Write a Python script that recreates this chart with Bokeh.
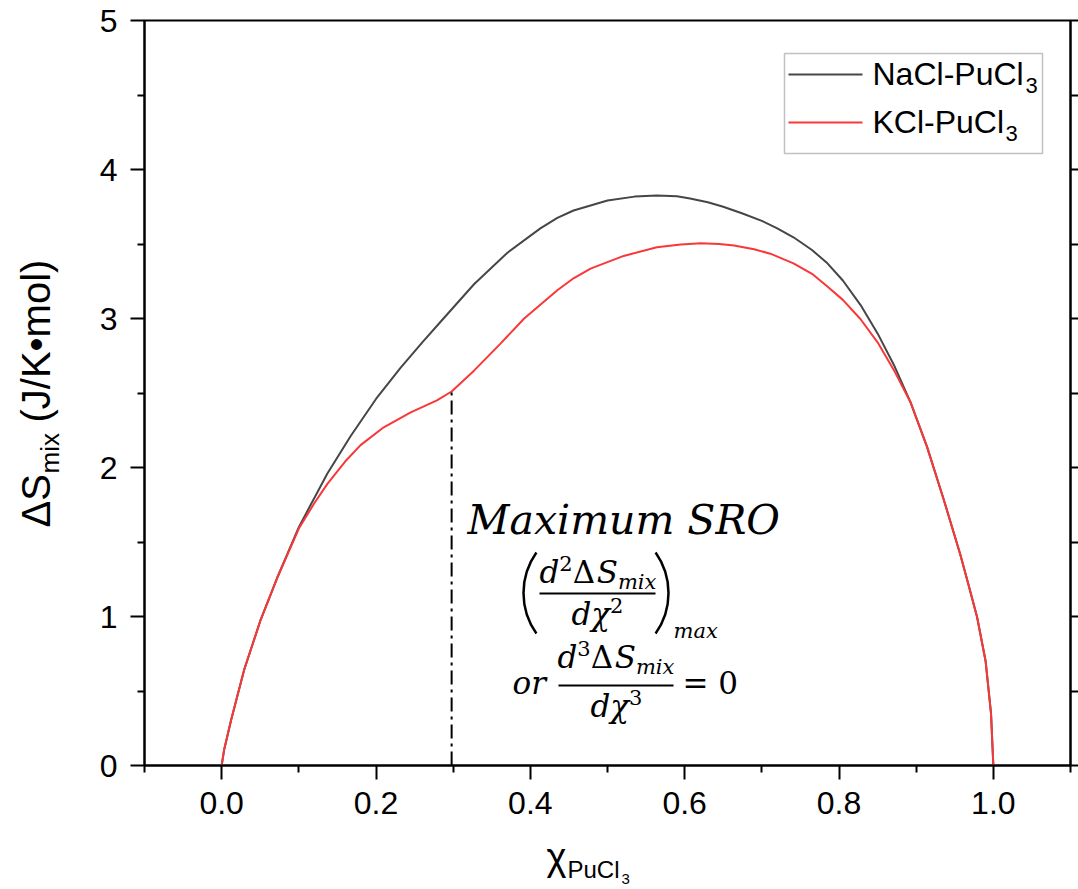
import math
from bokeh.plotting import figure
from bokeh.layouts import row, column
from bokeh.models import (Range1d, LinearAxis, FixedTicker, Label, BoxAnnotation,
                          PrintfTickFormatter, CustomJSTickFormatter)
from bokeh.embed import file_html
from bokeh.resources import INLINE

# Mole fraction of PuCl3 and entropy of mixing (J/K·mol)
x_nacl = [0.0, 0.003, 0.012, 0.029, 0.05, 0.072, 0.10, 0.137, 0.167, 0.20, 0.232,
          0.26, 0.284, 0.327, 0.37, 0.413, 0.435, 0.456, 0.50, 0.535, 0.564, 0.59,
          0.607, 0.63, 0.65, 0.675, 0.70, 0.72, 0.741, 0.765, 0.785, 0.805, 0.828,
          0.85, 0.871, 0.8925, 0.914, 0.936, 0.957, 0.968, 0.979, 0.99, 0.997, 1.0]
s_nacl = [0.0, 0.10, 0.30, 0.64, 0.97, 1.26, 1.60, 1.96, 2.21, 2.46, 2.67,
          2.84, 2.98, 3.23, 3.44, 3.605, 3.675, 3.725, 3.792, 3.818, 3.826, 3.82,
          3.805, 3.78, 3.75, 3.705, 3.655, 3.605, 3.545, 3.46, 3.37, 3.255, 3.09,
          2.90, 2.69, 2.44, 2.14, 1.78, 1.42, 1.21, 0.995, 0.70, 0.35, 0.0]

x_kcl = [0.0, 0.003, 0.012, 0.029, 0.05, 0.072, 0.10, 0.12, 0.137, 0.16, 0.18,
         0.21, 0.245, 0.279, 0.298, 0.327, 0.361, 0.392, 0.435, 0.456, 0.478,
         0.521, 0.564, 0.595, 0.621, 0.645, 0.664, 0.69, 0.711, 0.741, 0.765,
         0.785, 0.805, 0.828, 0.85, 0.871, 0.8925, 0.914, 0.936, 0.957, 0.968,
         0.979, 0.99, 0.997, 1.0]
s_kcl = [0.0, 0.10, 0.30, 0.64, 0.97, 1.26, 1.59, 1.76, 1.89, 2.04, 2.15,
         2.27, 2.37, 2.45, 2.51, 2.65, 2.83, 3.00, 3.19, 3.27, 3.335,
         3.42, 3.478, 3.497, 3.505, 3.50, 3.49, 3.465, 3.435, 3.37, 3.30,
         3.215, 3.125, 2.995, 2.84, 2.655, 2.44, 2.14, 1.78, 1.42, 1.21,
         0.995, 0.70, 0.35, 0.0]

# composition of maximum short-range order (KCl-PuCl3)
sro_x = 0.298
sro_s = 2.51

x_major = [0.0, 0.2, 0.4, 0.6, 0.8, 1.0]
x_minor = [-0.1, 0.1, 0.3, 0.5, 0.7, 0.9, 1.1]
y_major = [0, 1, 2, 3, 4, 5]
y_minor = [0.5, 1.5, 2.5, 3.5, 4.5]

GRAY = "#464646"
RED = "#f83838"
SANS = "Liberation Sans"
SERIF = "DejaVu Serif"

# page geometry (pixels): left title strip + main plot, then bottom title strip
W, H = 1078, 889
LEFT_W = 90
MAIN_W, MAIN_H = W - LEFT_W, 835
FL, FR, FT, FB = 144, 1070, 20, 765          # frame edges on the page
X0, X1 = -0.1, 1.1
Y0, Y1 = 0.0, 5.0
BASE = 0.366                                  # baseline drop of a label, in em


def dx(px):
    return X0 + (px - FL) / (FR - FL) * (X1 - X0)


def dy(py):
    return Y0 + (FB - py) / (FB - FT) * (Y1 - Y0)


p = figure(width=MAIN_W, height=MAIN_H, x_range=Range1d(X0, X1),
           y_range=Range1d(Y0, Y1), output_backend="svg", toolbar_location=None,
           min_border_left=FL - LEFT_W, min_border_right=W - FR,
           min_border_top=FT, min_border_bottom=MAIN_H - FB)
p.xgrid.visible = False
p.ygrid.visible = False
p.outline_line_color = "black"
p.outline_line_width = 2


def style_axis(ax, ticks, minor, fmt):
    ax.ticker = FixedTicker(ticks=ticks, minor_ticks=minor)
    ax.formatter = fmt
    ax.axis_line_color = "black"
    ax.axis_line_width = 2
    ax.major_tick_line_width = 2
    ax.minor_tick_line_width = 2
    ax.major_tick_line_color = "black"
    ax.minor_tick_line_color = "black"
    ax.major_tick_in = 0
    ax.minor_tick_in = 0
    ax.major_tick_out = 14
    ax.minor_tick_out = 7
    ax.major_label_text_font = SANS
    ax.major_label_text_font_size = "32px"
    ax.major_label_text_color = "black"


style_axis(p.xaxis[0], x_major, x_minor, PrintfTickFormatter(format="%.1f"))
p.xaxis[0].major_label_standoff = 12
style_axis(p.yaxis[0], y_major, y_minor, PrintfTickFormatter(format="%d"))
p.yaxis[0].major_label_standoff = 13

right = LinearAxis()
style_axis(right, y_major, y_minor, CustomJSTickFormatter(code="return ''"))
right.major_tick_out = 8
right.minor_tick_out = 8
right.major_label_standoff = 0
p.add_layout(right, "right")

# curves
p.line(x_nacl, s_nacl, line_color=GRAY, line_width=2)
p.line(x_kcl, s_kcl, line_color=RED, line_width=2)

# vertical dash-dot marker at the maximum SRO composition
p.line([sro_x, sro_x], [0, sro_s], line_color="black", line_width=2,
       line_dash="14 5 3 5")


def lab(px, py, text, size, font=SANS, style="normal"):
    """Text on the main plot; (px, py) is the page position of the baseline start."""
    p.add_layout(Label(x=dx(px), y=dy(py - BASE * size), text=text, text_font=font,
                       text_font_size=f"{size}px", text_font_style=style,
                       text_color="black", text_align="left",
                       text_baseline="alphabetic"))


# legend
p.add_layout(BoxAnnotation(left=dx(784), right=dx(1042), top=dy(53), bottom=dy(153),
                           fill_color="white", fill_alpha=1.0, level="underlay",
                           line_color="#333333", line_width=1.5))
p.line([dx(788), dx(862)], [dy(74), dy(74)], line_color=GRAY, line_width=2)
p.line([dx(788), dx(862)], [dy(122), dy(122)], line_color=RED, line_width=2)
lab(872, 85, "NaCl-PuCl", 32)
lab(1025, 93, "3", 22)
lab(872, 133, "KCl-PuCl", 32)
lab(1005, 141, "3", 22)

# annotation text
lab(467, 535, "Maximum SRO", 41, SERIF, "italic")

M, S = 31, 21            # main and script sizes of the formulae


def seq(x, base, parts):
    """Lay out (text, size, style, rise, advance_em) pieces from x along a baseline."""
    for text, size, style, rise, adv in parts:
        lab(x, base - rise, text, size, SERIF, style)
        x += adv * size


num = lambda k: [("d", M, "italic", 0, 0.64), (k, S, "normal", 12, 0.64),
                 ("Δ", M, "normal", 0, 0.77), ("S", M, "italic", 0, 0.685),
                 ("mix", S, "italic", -6, 1.84)]
den = lambda k: [("dχ", M, "italic", 0, 1.24), (k, S, "normal", 12, 0.64)]

# (d²ΔS_mix / dχ²)_max
seq(539, 583, num("2"))
p.line([dx(539), dx(655)], [dy(593), dy(593)], line_color="black", line_width=2)
seq(571, 625, den("2"))
lab(673, 638, "max", S, SERIF, "italic")

R_PAREN = 70
HALF = math.asin(40.5 / R_PAREN)
p.arc(x=[dx(523 + R_PAREN)], y=[dy(592.5)], radius=R_PAREN, radius_units="screen",
      start_angle=math.pi - HALF, end_angle=math.pi + HALF,
      line_color="black", line_width=2.5)
p.arc(x=[dx(668 - R_PAREN)], y=[dy(592.5)], radius=R_PAREN, radius_units="screen",
      start_angle=-HALF, end_angle=HALF, line_color="black", line_width=2.5)

# or d³ΔS_mix / dχ³ = 0
lab(512, 694, "or", M, SERIF, "italic")
seq(557, 668, num("3"))
p.line([dx(558), dx(673)], [dy(685), dy(685)], line_color="black", line_width=2)
seq(590, 717, den("3"))
lab(682, 694, "= 0", M, SERIF)


def strip(w, h, y_top, y_bottom):
    """Blank figure whose data coordinates are page pixels (y grows downwards)."""
    f = figure(width=w, height=h, x_range=Range1d(0, w),
               y_range=Range1d(y_bottom, y_top),
               output_backend="svg", toolbar_location=None,
               x_axis_location=None, y_axis_location=None,
               min_border_left=0, min_border_right=0,
               min_border_top=0, min_border_bottom=0)
    f.xgrid.visible = False
    f.ygrid.visible = False
    f.outline_line_color = None
    return f


# y-axis title, reading upwards; the strip's frame lines up with the main frame
left = strip(LEFT_W, MAIN_H, FT, FB)
V = math.pi / 2
for bx, y0, text, size in [(50, 527, "ΔS", 40), (59, 473, "mix", 26),
                           (50, 422, "(J/K•mol)", 40)]:
    left.add_layout(Label(x=bx - BASE * size, y=y0, text=text, text_font=SANS,
                          text_font_size=f"{size}px", text_color="black",
                          text_align="left", text_baseline="alphabetic", angle=V))

# x-axis title (strip spans the full page width)
bottom = strip(W, H - MAIN_H, MAIN_H, H)
for px, py, text, size in [(546, 870, "χ", 38), (567, 878, "PuCl", 24),
                           (621, 884, "3", 15)]:
    bottom.add_layout(Label(x=px, y=py - BASE * size, text=text,
                            text_font=SANS, text_font_size=f"{size}px",
                            text_color="black", text_align="left",
                            text_baseline="alphabetic"))

page = column(row(left, p, spacing=0), bottom, spacing=0)
open("out.html", "w").write(file_html(page, INLINE))
